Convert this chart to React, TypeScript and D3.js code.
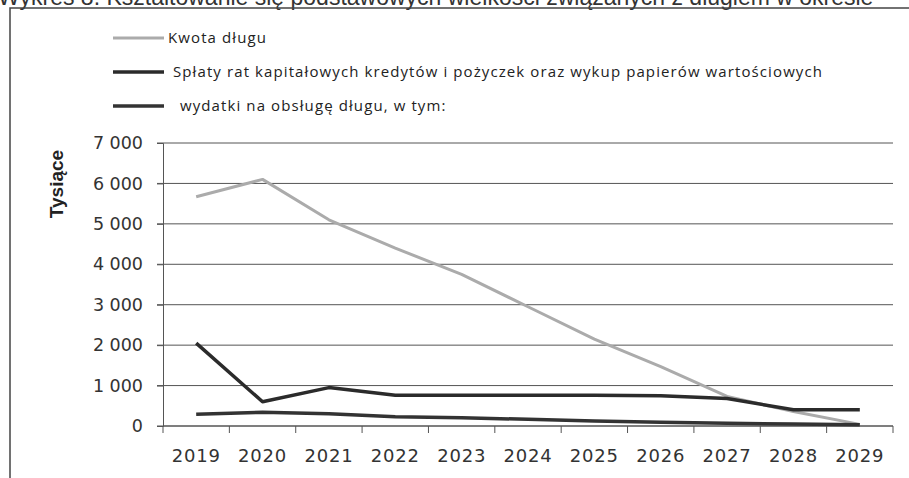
import * as d3 from "d3";
import { useEffect, useRef } from "react";

const years = ["2019", "2020", "2021", "2022", "2023", "2024", "2025", "2026", "2027", "2028", "2029"];
const kwotaDlugu = [5670, 6100, 5100, 4400, 3750, 2950, 2150, 1470, 730, 360, 40];
const splatyRat = [2050, 600, 950, 760, 760, 760, 760, 750, 680, 400, 400];
const wydatkiObsluga = [290, 340, 300, 230, 205, 165, 125, 90, 65, 50, 30];
const yTicks = [0, 1000, 2000, 3000, 4000, 5000, 6000, 7000];

const seriesNames = [
  "Kwota długu",
  "Spłaty rat kapitałowych kredytów i pożyczek oraz wykup papierów wartościowych",
  " wydatki na obsługę długu, w tym:",
];
const titleText = "Wykres 8. Kształtowanie się podstawowych wielkości związanych z długiem w okresie";

export default function App() {
  const svgRef = useRef<SVGSVGElement | null>(null);
  const width = 909;
  const height = 478;

  useEffect(() => {
    if (!svgRef.current) return;
    const svg = d3.select(svgRef.current);
    svg.selectAll("*").remove();

    const margin = { top: 143, right: 16, bottom: 52, left: 163 };

    svg.append("rect").attr("width", width).attr("height", height).attr("fill", "#fff");

    // title, cut off at the top edge like in the scan
    svg
      .append("text")
      .attr("x", -2)
      .attr("y", 5)
      .attr("font-family", "Liberation Sans, Arial, sans-serif")
      .attr("font-size", 23)
      .attr("fill", "#333")
      .text(titleText);

    // frame
    svg
      .append("path")
      .attr("d", `M10,${height} L10,8 L${width},8`)
      .attr("fill", "none")
      .attr("stroke", "#444")
      .attr("stroke-width", 1.5);

    const x = d3
      .scaleBand()
      .domain(years)
      .range([margin.left, width - margin.right]);

    const y = d3
      .scaleLinear()
      .domain([0, 7000])
      .range([height - margin.bottom, margin.top]);

    // grid
    svg
      .append("g")
      .selectAll("line")
      .data(yTicks)
      .join("line")
      .attr("x1", margin.left - 6)
      .attr("x2", width - margin.right)
      .attr("y1", (d) => y(d))
      .attr("y2", (d) => y(d))
      .attr("stroke", "#555")
      .attr("stroke-width", 1);

    // y axis
    const yAxis = svg
      .append("g")
      .attr("transform", `translate(${margin.left},0)`)
      .call(
        d3
          .axisLeft(y)
          .tickValues(yTicks)
          .tickSize(6)
          .tickPadding(14)
          .tickFormat((d) => d3.format(",")(d as number).replace(/,/g, " "))
      );
    yAxis.select(".domain").attr("stroke", "#555");
    yAxis.selectAll(".tick line").attr("stroke", "#555");
    yAxis
      .selectAll("text")
      .attr("font-family", "DejaVu Sans, Verdana, sans-serif")
      .attr("font-size", 17.5)
      .attr("fill", "#333");

    // x axis, ticks on category boundaries
    const xAxis = svg.append("g").attr("transform", `translate(0,${y(0)})`);
    xAxis
      .append("line")
      .attr("x1", margin.left)
      .attr("x2", width - margin.right)
      .attr("stroke", "#555");
    xAxis
      .selectAll(".tk")
      .data(years.concat(["end"]))
      .join("line")
      .attr("class", "tk")
      .attr("x1", (d, i) => (i < years.length ? x(d)! : width - margin.right))
      .attr("x2", (d, i) => (i < years.length ? x(d)! : width - margin.right))
      .attr("y1", 0)
      .attr("y2", 7)
      .attr("stroke", "#555");
    xAxis
      .selectAll(".lbl")
      .data(years)
      .join("text")
      .attr("class", "lbl")
      .attr("x", (d) => x(d)! + x.bandwidth() / 2)
      .attr("y", 36)
      .attr("text-anchor", "middle")
      .attr("font-family", "DejaVu Sans, Verdana, sans-serif")
      .attr("font-size", 18)
      .attr("letter-spacing", 0.8)
      .attr("fill", "#333")
      .text((d) => d);

    // y-axis title
    svg
      .append("text")
      .attr("transform", `translate(63,184) rotate(-90)`)
      .attr("text-anchor", "middle")
      .attr("font-family", "Liberation Sans, Arial, sans-serif")
      .attr("font-weight", "bold")
      .attr("font-size", 19)
      .attr("fill", "#222")
      .text("Tysiące");

    const line = d3
      .line<number>()
      .x((d, i) => x(years[i])! + x.bandwidth() / 2)
      .y((d) => y(d));

    const series = [
      { values: kwotaDlugu, color: "#ababab", w: 3 },
      { values: splatyRat, color: "#2b2b2b", w: 3.5 },
      { values: wydatkiObsluga, color: "#333", w: 3.5 },
    ];

    series.forEach((s) => {
      svg
        .append("path")
        .datum(s.values)
        .attr("fill", "none")
        .attr("stroke", s.color)
        .attr("stroke-width", s.w)
        .attr("stroke-linejoin", "round")
        .attr("d", line);
    });

    // legend
    const legendY = [38, 72, 106];
    const legend = svg
      .append("g")
      .selectAll("g")
      .data(series)
      .join("g")
      .attr("transform", (d, i) => `translate(113,${legendY[i]})`);
    legend
      .append("line")
      .attr("x1", 0)
      .attr("x2", 51)
      .attr("stroke", (d) => d.color)
      .attr("stroke-width", (d) => d.w);
    legend
      .append("text")
      .attr("x", (d, i) => [55, 60, 62][i])
      .attr("y", 5)
      .attr("font-family", "Open Sans, sans-serif")
      .attr("font-size", 15)
      .attr("letter-spacing", 1.1)
      .attr("fill", "#222")
      .style("white-space", "pre")
      .text((d, i) => seriesNames[i]);
  }, []);

  return (
    <svg
      ref={svgRef}
      width={width}
      height={height}
      style={{ position: "absolute", left: 0, top: 0, display: "block" }}
    />
  );
}
